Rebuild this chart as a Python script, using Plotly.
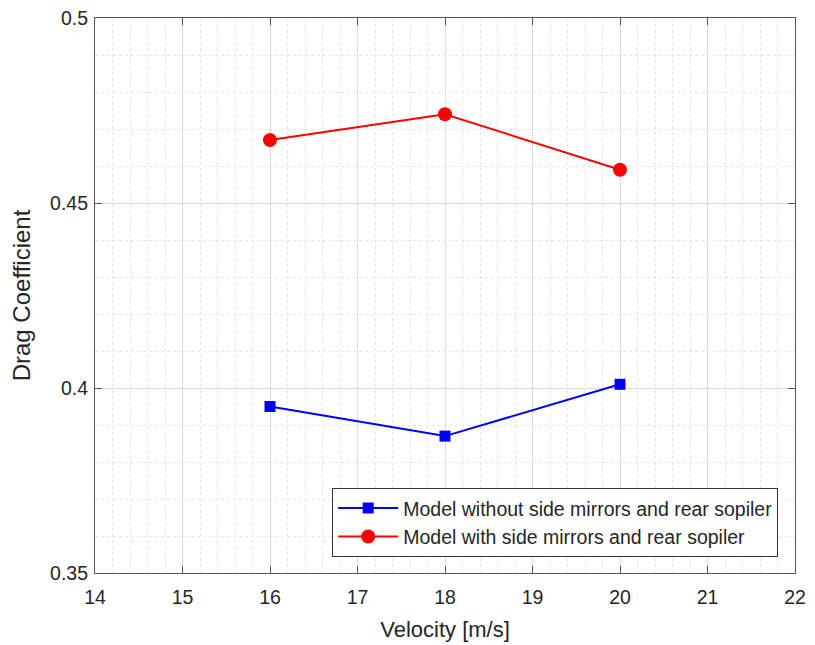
import plotly.graph_objects as go

# Wind-tunnel drag coefficient vs. flow velocity
velocity = [16, 18, 20]
cd_without = [0.395, 0.387, 0.401]
cd_with = [0.467, 0.474, 0.459]

name_without = "Model without side mirrors and rear sopiler"
name_with = "Model with side mirrors and rear sopiler"

x_ticks = [14, 15, 16, 17, 18, 19, 20, 21, 22]
y_ticks = [0.35, 0.4, 0.45, 0.5]

font_family = "Liberation Sans, Arial, Helvetica, sans-serif"
axis_color = "#555555"
text_color = "#262626"

fig = go.Figure()
fig.add_trace(go.Scatter(
    x=velocity, y=cd_without, name=name_without, mode="lines+markers",
    line=dict(color="#0000ff", width=2),
    marker=dict(symbol="square", size=11, color="#0000ff"),
))
fig.add_trace(go.Scatter(
    x=velocity, y=cd_with, name=name_with, mode="lines+markers",
    line=dict(color="#ff0000", width=2),
    marker=dict(symbol="circle", size=14, color="#ff0000"),
))

axis_common = dict(
    showline=True, linecolor=axis_color, linewidth=1.2, mirror="allticks",
    ticks="inside", ticklen=7, tickcolor=axis_color, tickwidth=1,
    showgrid=True, gridcolor="#dcdcdc", gridwidth=1,
    zeroline=False, automargin=False,
    tickfont=dict(family=font_family, size=19.5, color=text_color),
)

fig.update_xaxes(
    range=[14, 22], tickvals=x_ticks, ticklabelstandoff=6,
    minor=dict(dtick=0.2, showgrid=True, gridcolor="#e4e4e4", griddash="dot", ticks=""),
    title=dict(text="Velocity [m/s]", font=dict(family=font_family, size=22, color=text_color), standoff=15),
    **axis_common,
)
fig.update_yaxes(
    range=[0.35, 0.5], tickvals=y_ticks, ticklabelstandoff=2,
    minor=dict(dtick=0.01, showgrid=True, gridcolor="#e4e4e4", griddash="dot", ticks=""),
    title=dict(text="Drag Coefficient", font=dict(family=font_family, size=24, color=text_color), standoff=12),
    **axis_common,
)

fig.update_layout(
    width=815, height=645,
    margin=dict(l=95, r=20, t=18, b=72),
    paper_bgcolor="white", plot_bgcolor="white",
    font=dict(family=font_family, color=text_color),
    showlegend=True,
    legend=dict(
        x=0.976, y=0.029, xanchor="right", yanchor="bottom",
        bgcolor="white", bordercolor="#333333", borderwidth=1,
        font=dict(family=font_family, size=19.5, color=text_color),
        tracegroupgap=0, itemwidth=60,
    ),
)

fig.write_html("out.html")
